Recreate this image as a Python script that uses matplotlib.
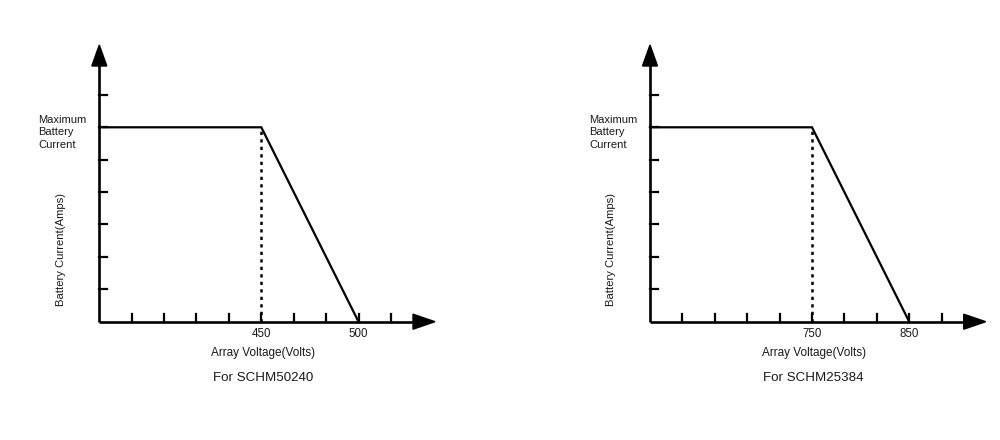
import matplotlib.pyplot as plt
from matplotlib.patches import Polygon

# two derating curves, one per model
models = ['SCHM50240', 'SCHM25384']
knee_volts = [450, 750]      # current starts to fall here
cutoff_volts = [500, 850]    # current reaches zero here
max_current = 6              # schematic level (in tick steps)
zero_current = 0

plt.rcParams['font.family'] = ['Liberation Sans', 'DejaVu Sans']
txt = '#1a1a1a'

fig = plt.figure(figsize=(10, 4.4), dpi=100)

px = 32.4                    # pixels per tick step
x_units = 335.7 / px         # axis length incl. arrow
y_units = 276.7 / px
lefts = [99.3, 650.0]
bottom = 440 - 321.7

for i, model in enumerate(models):
    ax = fig.add_axes([lefts[i] / 1000, bottom / 440, 335.7 / 1000, 276.7 / 440])
    step = (cutoff_volts[i] - knee_volts[i]) / 3
    x0 = knee_volts[i] - 5 * step
    ax.set_xlim(x0, x0 + x_units * step)
    ax.set_ylim(0, y_units)
    ax.axis('off')

    # axes lines with arrow heads (drawn in axes fraction)
    lw_axis = 1.9
    ax.plot([0, 1 - 20 / 335.7], [0, 0], color='black', lw=lw_axis,
            transform=ax.transAxes, clip_on=False, solid_capstyle='butt')
    ax.plot([0, 0], [0, 1 - 18 / 276.7], color='black', lw=lw_axis,
            transform=ax.transAxes, clip_on=False, solid_capstyle='butt')
    hx = 22 / 335.7
    hw = 7.5 / 276.7
    ax.add_patch(Polygon([[1 - hx, -hw], [1, 0], [1 - hx, hw]], closed=True,
                         transform=ax.transAxes, color='black', clip_on=False))
    hy = 21 / 276.7
    hwx = 7.5 / 335.7
    ax.add_patch(Polygon([[-hwx, 1 - hy], [0, 1], [hwx, 1 - hy]], closed=True,
                         transform=ax.transAxes, color='black', clip_on=False))

    # tick marks
    tick_len = 8 / px
    for k in range(1, 10):
        xv = x0 + k * step
        ax.plot([xv, xv], [0, tick_len], color='black', lw=1.6, clip_on=False)
    for k in range(1, 8):
        ax.plot([x0, x0 + tick_len * step], [k, k], color='black', lw=1.6, clip_on=False)

    # derating curve
    ax.plot([x0, knee_volts[i], cutoff_volts[i]], [max_current, max_current, zero_current],
            color='black', lw=1.6, clip_on=False, solid_joinstyle='miter')
    ax.plot([knee_volts[i], knee_volts[i]], [zero_current, max_current], color='black',
            lw=1.8, linestyle=(0, (1.3, 1.7)), clip_on=False)

    # labels
    for v in (knee_volts[i], cutoff_volts[i]):
        ax.text(v, -12.3 / px, str(v), ha='center', va='center', fontsize=8.3, color=txt)
    ax.text(x0 + 5.05 * step, -31.5 / px, 'Array Voltage(Volts)', ha='center', va='center',
            fontsize=8.5, color=txt)
    ax.text(x0 + 5.05 * step, -56.5 / px, 'For ' + model, ha='center', va='center',
            fontsize=9.6, color=txt)
    ax.text(x0 - 61 / px * step, max_current - 5 / px, 'Maximum\nBattery\nCurrent',
            ha='left', va='center', fontsize=8, linespacing=1.3, color=txt)
    ax.text(x0 - 38.6 / px * step, 72 / px, 'Battery Current(Amps)', rotation=90,
            ha='center', va='center', fontsize=8.1, color=txt)

fig.savefig('out.png', dpi=100)
